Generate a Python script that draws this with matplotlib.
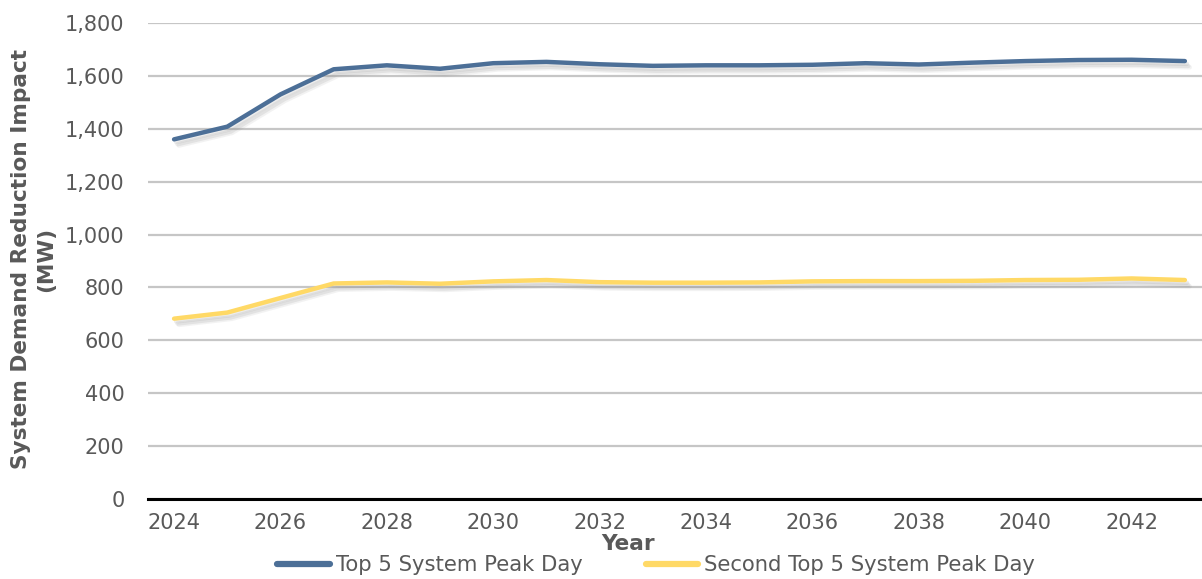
import matplotlib
matplotlib.use("Agg")
import matplotlib.pyplot as plt
import matplotlib.patheffects as pe
from matplotlib.ticker import FuncFormatter, MultipleLocator

years = list(range(2024, 2044))
top5_peak = [1360, 1408, 1530, 1625, 1640, 1627, 1648, 1653, 1644, 1638,
             1640, 1640, 1642, 1648, 1643, 1650, 1656, 1660, 1661, 1656]
second_top5_peak = [682, 705, 760, 815, 819, 814, 823, 828, 820, 818,
                    818, 819, 823, 824, 824, 825, 828, 829, 834, 828]
series_names = ["Top 5 System Peak Day", "Second Top 5 System Peak Day"]
series_colors = ["#4C6F97", "#FFD966"]
x_ticks = list(range(2024, 2043, 2))

plt.rcParams["font.family"] = ["DejaVu Sans"]
text_color = "#595959"

fig = plt.figure(figsize=(12.02, 5.79), dpi=100)
ax = fig.add_axes([148 / 1202, 1 - 499 / 579, 1 - 148 / 1202, (499 - 23) / 579])

# soft drop shadow built from a few offset, faint copies of each line
shadow = [pe.SimpleLineShadow(offset=(3.5, -4.5), shadow_color="#888888", alpha=0.10),
          pe.SimpleLineShadow(offset=(2.5, -3.5), shadow_color="#888888", alpha=0.15),
          pe.SimpleLineShadow(offset=(1.5, -2), shadow_color="#888888", alpha=0.15),
          pe.Normal()]

for vals, name, col in zip([top5_peak, second_top5_peak], series_names, series_colors):
    ax.plot(years, vals, color=col, lw=3.2, label=name, solid_capstyle="round",
            solid_joinstyle="round", path_effects=shadow, zorder=3)

ax.set_ylim(0, 1800)
ax.set_xlim(2023.51, 2023.51 + (1202 - 148) / 53.2)
ax.yaxis.set_major_locator(MultipleLocator(200))
ax.yaxis.set_major_formatter(FuncFormatter(lambda v, p: f"{int(v):,}"))
ax.set_xticks(x_ticks)
ax.set_xticklabels([str(y) for y in x_ticks])

ax.grid(axis="y", color="#c6c6c6", lw=1.6)
ax.set_axisbelow(True)
for s in ["top", "right", "left"]:
    ax.spines[s].set_visible(False)
ax.spines["bottom"].set_color("black")
ax.spines["bottom"].set_linewidth(2.2)
ax.spines["bottom"].set_zorder(4)
ax.tick_params(axis="both", length=0, labelsize=15, labelcolor=text_color)
ax.tick_params(axis="y", pad=17)
ax.tick_params(axis="x", pad=10)

fig.text(21 / 1202, 1 - 259 / 579, "System Demand Reduction Impact", rotation=90,
         ha="center", va="center", fontsize=15.6, fontweight="bold", color=text_color)
fig.text(46 / 1202, 1 - 259 / 579, "(MW)", rotation=90,
         ha="center", va="center", fontsize=15.6, fontweight="bold", color=text_color)
fig.text(628 / 1202, 1 - 544 / 579, "Year", ha="center", va="center",
         fontsize=15.6, fontweight="bold", color=text_color)

leg = fig.legend(loc="center", bbox_to_anchor=(656 / 1202, 1 - 565 / 579), ncol=2,
                 frameon=False, fontsize=15.2, handlelength=2.5, handletextpad=0.25,
                 columnspacing=3.0, labelcolor=text_color)
for h in leg.get_lines():
    h.set_linewidth(4.5)
    h.set_path_effects([])

fig.savefig("out.png", dpi=100)
